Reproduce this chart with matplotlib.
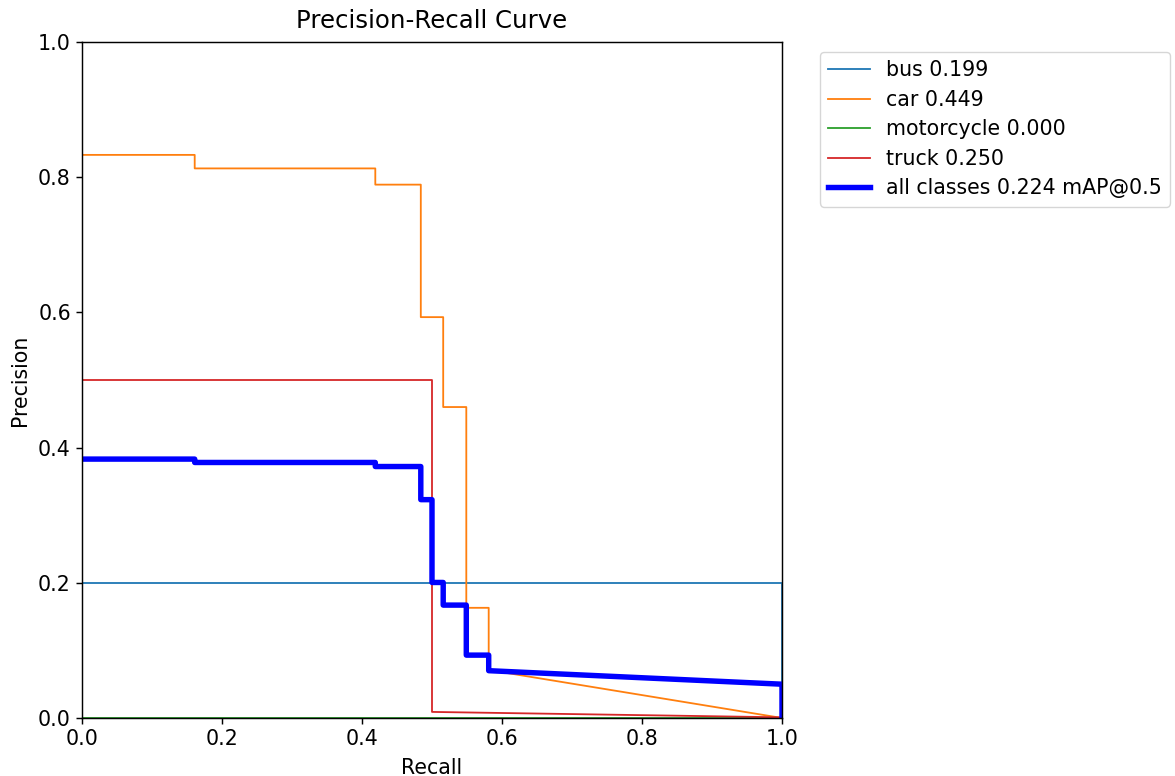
import matplotlib
matplotlib.use("Agg")
import matplotlib.pyplot as plt

# Vertices (recall, precision)
bus_r = [0.0, 1.0, 1.0]
bus_p = [0.2, 0.2, 0.0]

car_r = [0.0, 0.161, 0.161, 0.419, 0.419, 0.484, 0.484, 0.516, 0.516, 0.549, 0.549, 0.581, 0.581, 1.0]
car_p = [0.833, 0.833, 0.813, 0.813, 0.789, 0.789, 0.593, 0.593, 0.460, 0.460, 0.163, 0.163, 0.071, 0.0]

moto_r = [0.0, 1.0]
moto_p = [0.0, 0.0]

truck_r = [0.0, 0.5, 0.5, 1.0]
truck_p = [0.5, 0.5, 0.009, 0.001]

all_r = [0.0, 0.161, 0.161, 0.419, 0.419, 0.484, 0.484, 0.5, 0.5, 0.516, 0.516, 0.549, 0.549, 0.581, 0.581, 1.0, 1.0]
all_p = [0.383, 0.383, 0.378, 0.378, 0.372, 0.372, 0.323, 0.323, 0.2005, 0.2005, 0.167, 0.167, 0.093, 0.093, 0.070, 0.050, 0.0]

labels = ["bus 0.199", "car 0.449", "motorcycle 0.000", "truck 0.250"]
all_label = "all classes 0.224 mAP@0.5"

s = 1.3056
plt.rcParams.update({
    "font.size": 14.8,
    "xtick.major.size": 3.5 * s,
    "ytick.major.size": 3.5 * s,
    "xtick.major.width": 0.8 * s,
    "ytick.major.width": 0.8 * s,
    "axes.linewidth": 0.8 * s,
})

fig = plt.figure(figsize=(11.75, 7.76), dpi=100)
ax = fig.add_axes([82 / 1175, 1 - 718 / 776, 700 / 1175, 676 / 776])

for r, p, lab in zip([bus_r, car_r, moto_r, truck_r], [bus_p, car_p, moto_p, truck_p], labels):
    ax.plot(r, p, linewidth=1.0 * s, label=lab)
ax.plot(all_r, all_p, linewidth=3.0 * s, color="blue", label=all_label)

ax.set_xlabel("Recall", labelpad=6)
ax.set_ylabel("Precision", labelpad=6)
ax.set_xlim(0, 1)
ax.set_ylim(0, 1)
ax.set_title("Precision-Recall Curve", fontsize=17.6, pad=10)
ax.legend(bbox_to_anchor=(1.04, 1), loc="upper left", labelspacing=0.46)

fig.savefig("out.png", dpi=100)
